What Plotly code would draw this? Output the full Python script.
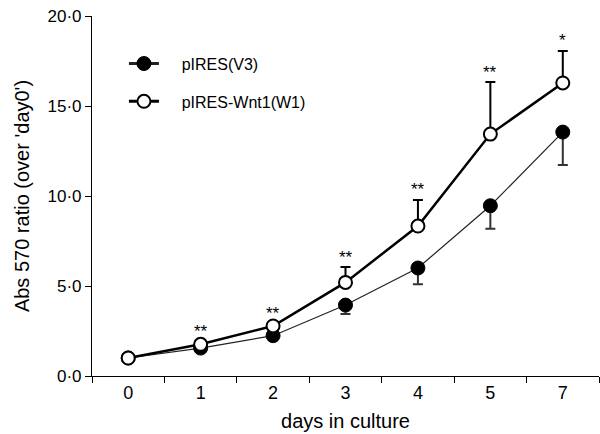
import plotly.graph_objects as go

days = ["0", "1", "2", "3", "4", "5", "7"]
v3_mean = [1.0, 1.55, 2.24, 3.94, 6.0, 9.46, 13.55]
v3_err_down = [0.0, 0.1, 0.1, 0.5, 0.9, 1.28, 1.83]
w1_mean = [1.0, 1.76, 2.78, 5.2, 8.33, 13.44, 16.28]
w1_err_up = [0.0, 0.13, 0.11, 0.85, 1.45, 2.89, 1.78]
stars = ["", "**", "**", "**", "**", "**", "*"]
series_names = ["pIRES(V3)", "pIRES-Wnt1(W1)"]
ytick_vals = [0, 5, 10, 15, 20]
ytick_text = ["0·0", "5·0", "10·0", "15·0", "20·0"]

FONT = "Liberation Sans, Arial, Helvetica, sans-serif"
NB = "\u00a0" * 4

fig = go.Figure()
fig.add_trace(go.Scatter(
    x=days, y=v3_mean, mode="lines+markers", name=series_names[0],
    line=dict(color="#222", width=1.2),
    marker=dict(symbol="circle", size=14, color="black", line=dict(color="black", width=1)),
    error_y=dict(type="data", symmetric=False, array=[0]*len(days), arrayminus=v3_err_down,
                 color="#333", thickness=2, width=5),
    showlegend=False,
))
fig.add_trace(go.Scatter(
    x=days, y=w1_mean, mode="lines+markers", name=series_names[1],
    line=dict(color="black", width=2.5),
    marker=dict(symbol="circle", size=13, color="white", line=dict(color="black", width=2)),
    error_y=dict(type="data", symmetric=False, array=w1_err_up, arrayminus=[0]*len(days),
                 color="black", thickness=2, width=5),
    showlegend=False,
))
# legend entries (thick sample lines, as in the original key)
fig.add_trace(go.Scatter(
    x=[None], y=[None], mode="lines+markers", name=NB + series_names[0],
    line=dict(color="#222", width=3),
    marker=dict(symbol="circle", size=14, color="black", line=dict(color="black", width=1)),
    legendgroup="a",
))
fig.add_trace(go.Scatter(
    x=[None], y=[None], mode="lines+markers", name=NB + series_names[1],
    line=dict(color="black", width=3),
    marker=dict(symbol="circle", size=13, color="white", line=dict(color="black", width=2)),
    legendgroup="b",
))

for i, (m, e, s) in enumerate(zip(w1_mean, w1_err_up, stars)):
    if s:
        fig.add_annotation(x=i, y=m + e, xref="x", yref="y", text=s, showarrow=False,
                           yanchor="middle", yshift=10,
                           font=dict(size=17, color="black", family=FONT))

fig.update_layout(
    width=600, height=434,
    margin=dict(l=92, r=1, t=16, b=58),
    paper_bgcolor="white", plot_bgcolor="white",
    font=dict(family=FONT, size=16, color="black"),
    showlegend=True,
    legend=dict(x=0.063, y=0.915, xanchor="left", yanchor="top", bgcolor="rgba(0,0,0,0)",
                font=dict(size=16), tracegroupgap=14, itemwidth=30),
)
fig.update_xaxes(
    type="category", range=[-0.5, 6.5], tickson="boundaries",
    ticks="outside", ticklen=6, tickwidth=1, tickcolor="black",
    showline=True, linecolor="black", linewidth=1.2, showgrid=False, zeroline=False,
    title=dict(text="days in culture", font=dict(size=20), standoff=12),
    tickfont=dict(size=18),
)
fig.update_yaxes(
    range=[0, 20], tickvals=ytick_vals, ticktext=ytick_text,
    ticks="outside", ticklen=6, tickwidth=1, tickcolor="black",
    showline=True, linecolor="black", linewidth=1.2, showgrid=False, zeroline=False,
    title=dict(text="Abs 570 ratio (over 'day0')", font=dict(size=20), standoff=12),
    tickfont=dict(size=17),
)

fig.write_html("out.html")
